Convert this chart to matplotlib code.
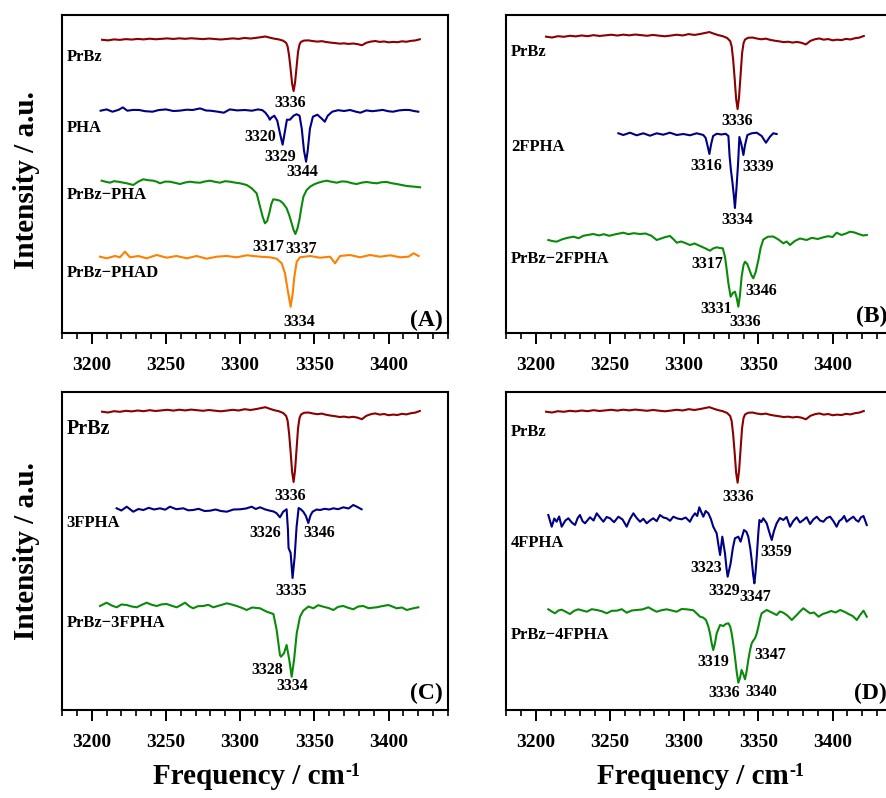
import numpy as np
import matplotlib
matplotlib.use("Agg")
import matplotlib.pyplot as plt
from matplotlib.ticker import MultipleLocator

plt.rcParams['font.family'] = ['Liberation Serif', 'DejaVu Serif']
plt.rcParams['font.weight'] = 'bold'

# ──────────────────────────────────────────
# DATA  (frequency / cm-1, intensity relative to each trace baseline, a.u.)
# ──────────────────────────────────────────
prbz = [(3207, 0.3), (3211, -0.5), (3215, 0.8), (3219, 0.2), (3223, 1.2), (3227, 0.6),
        (3231, 1.5), (3235, 0.8), (3239, 1.8), (3243, 1.0), (3247, 1.6), (3251, 2.2),
        (3255, 1.4), (3259, 2.3), (3263, 1.6), (3267, 2.4), (3271, 1.8), (3275, 1.2),
        (3279, 2.0), (3283, 1.3), (3287, 0.7), (3291, 1.4), (3295, 2.2), (3299, 1.5),
        (3303, 2.8), (3307, 2.0), (3311, 3.0), (3315, 4.2), (3317, 4.8), (3320, 3.2),
        (3323, 1.8), (3326, 0.8), (3329, -1.0), (3331, -4), (3332, -9), (3333, -22),
        (3334, -40), (3335, -60), (3336, -70), (3337, -58), (3338, -37), (3339, -16),
        (3340, -6), (3341, -2.5), (3343, -0.8), (3346, -0.5), (3349, -1.5), (3352, -2.2),
        (3355, -1.6), (3358, -2.8), (3361, -3.6), (3364, -4.2), (3367, -5.0), (3370, -4.6),
        (3373, -5.4), (3376, -4.8), (3379, -5.6), (3382, -7.2), (3385, -3.8), (3388, -2.2),
        (3391, -1.4), (3394, -2.6), (3397, -2.0), (3400, -3.2), (3403, -2.6), (3406, -3.0),
        (3409, -1.8), (3412, -2.4), (3415, -1.2), (3418, -0.6), (3421, 1.0)]

pha = [(3206, 0), (3210, 1.3), (3214, -1), (3218, 0.8), (3221, 3.3), (3224, 0),
       (3228, 0.8), (3232, 0.7), (3236, -0.5), (3241, -1), (3245, 0.6), (3250, 1.3),
       (3255, -0.3), (3259, 0), (3264, 1), (3268, 0.7), (3273, 2.3), (3277, 0.2),
       (3280, 0), (3284, -0.8), (3289, -2), (3293, 1.3), (3298, 0.3), (3303, 0.7),
       (3308, 0), (3312, 1.3), (3315, 0.5), (3317, -2), (3319, -6), (3320, -9),
       (3321, -7), (3323, -5), (3325, -10), (3327, -24), (3328.6, -34), (3330, -22),
       (3331.5, -9), (3333.5, -9), (3336, -5), (3338, -3.5), (3340, -5), (3341.5, -18),
       (3343, -40), (3344.4, -51), (3345.5, -40), (3347, -18), (3349, -6), (3352, -4),
       (3355, -8), (3357, -11), (3359, -5), (3362, -1), (3366, 0.5), (3370, -0.3),
       (3374, 0.7), (3378, -1), (3381, -2), (3385, 0.3), (3389, -0.5), (3392, 0),
       (3396, 0.8), (3400, -0.6), (3403, -1), (3407, 0.3), (3411, 0.8), (3414, 0.7),
       (3417, -0.3), (3420, -1)]

prbz_pha = [(3206.7, 1.3), (3209.5, 0.2), (3212.3, -0.7), (3215, 0.8), (3217.9, 0.3),
            (3220.7, -0.5), (3223.6, -1.3), (3226, -2.2), (3228, -3), (3231.5, 0.5),
            (3234.8, 2.7), (3238, 1.8), (3241.5, 1.3), (3244, 0.2), (3246, -1.3),
            (3249.5, 0.4), (3252.7, 0.3), (3256, -0.8), (3259.5, -2), (3263, -0.5),
            (3266.2, 0.3), (3269.5, -0.4), (3273, -0.7), (3276.5, 0.6), (3279.7, 1.3),
            (3283, 0.2), (3286.4, -0.7), (3289.8, 0.8), (3293.2, 0.3), (3296.5, -0.6),
            (3299.9, -1.3), (3304.4, -3), (3307.8, -6.3), (3311.1, -11.3), (3313.4, -24.7),
            (3315.2, -35), (3316.7, -41.3), (3318.2, -39), (3319.6, -31.3), (3321, -22),
            (3322.3, -17.3), (3324.5, -17.8), (3326.8, -18.7), (3329, -21.5), (3331.3, -26.3),
            (3333, -33), (3334.7, -41.3), (3336, -48), (3337.2, -52), (3338.5, -47),
            (3339.9, -38), (3341.3, -25), (3342.6, -14.7), (3344.8, -8), (3347.1, -4.7),
            (3350, -2.2), (3352.7, -0.7), (3355.5, 0.5), (3358.3, 1.3), (3361.7, 0.2),
            (3365.1, -0.7), (3368.5, 0.6), (3371.8, 0.3), (3375.2, -1.2), (3378.5, -2),
            (3382, -0.6), (3385.3, 0), (3388.7, -0.8), (3392, -1.3), (3395.4, -0.2),
            (3398.8, 0), (3402, -1.2), (3405.5, -2), (3408.8, -3), (3412.2, -4),
            (3416.7, -4.6), (3421.2, -5.3)]

phad = [(3205.6, -0.2), (3210, -1.8), (3215.7, 0.5), (3219, -0.8), (3222.4, 4.8),
        (3225.8, -0.8), (3231.4, 0.5), (3237, -1.8), (3243.8, 1.5), (3250.5, -1.2),
        (3257.2, 0.5), (3264, -1.8), (3270.7, 0.5), (3277.4, -2.2), (3284.2, -0.2),
        (3291, 0.5), (3297.7, -0.8), (3304.4, 1.2), (3313.4, -0.2), (3320.1, -0.8),
        (3324.6, -2.2), (3328, -6.8), (3330.2, -16.8), (3332, -33.5), (3334, -50.2),
        (3335.4, -36.8), (3336.5, -20.2), (3338.1, -5.2), (3340.3, -0.8), (3347.1, 0.5),
        (3353.8, -1.2), (3360.6, -0.2), (3363.9, -6.8), (3367.3, 0.5), (3374, 1.5),
        (3380.8, -0.8), (3387.5, 1.5), (3394.3, -0.2), (3401, 1.2), (3407.8, -0.8),
        (3413.4, -0.2), (3416.8, 3.2), (3420.2, 0.5)]

fpha2 = [(3255.7, 0.7), (3259, -1), (3263.5, 1.3), (3268, -1.3), (3272.5, 0.7),
         (3277, -1.7), (3281.5, 0.7), (3285.9, -0.7), (3290.4, 1.3), (3295, -1),
         (3299.5, 0), (3303.9, -1.3), (3308.4, 0.7), (3312.9, -1), (3314.5, -4),
         (3315.8, -12), (3317, -20), (3318.2, -10), (3319.5, -2), (3322, 0.3),
         (3325, -0.5), (3328, 0.2), (3329.8, -2), (3330.6, -22), (3331.5, -36),
         (3332.5, -48), (3333.5, -62), (3334.2, -74), (3335.2, -55), (3336.3, -30),
         (3337.2, -3), (3338.5, -10), (3339.9, -21), (3341, -11), (3342.6, -1),
         (3345.5, 0.7), (3348.9, 1.3), (3352.2, -2), (3355.1, -8.7), (3357.8, -2.7),
         (3360, 0.7), (3362.3, 0)]

prbz_fpha2 = [(3208.5, 0), (3211, -1), (3214.1, -1.7), (3218, 0.8), (3221.5, 2.2),
              (3225.4, 3.3), (3229, 1.8), (3232, 4.2), (3235, 5), (3238.8, 6),
              (3242.5, 4.6), (3246, 5.8), (3249.5, 4.2), (3253, 5.5), (3256, 6.4),
              (3259, 7.3), (3262.5, 5.8), (3266, 6.8), (3270.3, 6), (3274, 6.5),
              (3278, 4.2), (3281.5, 0), (3284.5, 1.5), (3287.5, 3), (3290.5, 4),
              (3293, 0.5), (3295, -2.7), (3298, -1.5), (3301, -3.2), (3303.9, -5),
              (3307, -3.5), (3310, -5.5), (3313, -7.5), (3317.4, -10.7), (3319.5, -8.5),
              (3321.9, -7.3), (3324, -8), (3326, -8.3), (3327.5, -16.7), (3328.7, -30),
              (3329.8, -43.3), (3331.3, -56.7), (3332.8, -53), (3334.2, -51.7),
              (3335.4, -58), (3336.5, -66.7), (3337.6, -55), (3338.7, -36.7), (3340, -25),
              (3341, -21.7), (3342.5, -24), (3344, -30), (3345.4, -35.5), (3346.6, -38.3),
              (3348.2, -32), (3350, -20), (3351.5, -8), (3353.3, 0.5), (3356.5, 3.3),
              (3360, 3.5), (3363.5, 0.5), (3366.8, -3.3), (3369, -1.5), (3371.3, -5),
              (3374.5, -1), (3378, 1.5), (3382.5, 0), (3386, 2.2), (3390, 1),
              (3393.8, 2.7), (3397, 3.8), (3400, 3), (3402.7, 7.3), (3406, 5),
              (3409, 6.5), (3411.7, 8.3), (3414.5, 7.6), (3417.5, 6), (3420.5, 4.5),
              (3423, 5)]

fpha3 = [(3216.8, 1.7), (3220, -0.5), (3223.6, 3.3), (3228, -1.7), (3231.5, 1),
         (3234.8, 0), (3238.5, 2.2), (3242, 0.5), (3246, 1.7), (3249.5, 0.3),
         (3252.7, 3.3), (3257, 0.8), (3261.7, 1.7), (3265, -0.3), (3268.4, 0),
         (3272, 1.2), (3276, -1), (3279.7, -0.7), (3283.5, 0.5), (3287, -1),
         (3291, -1.7), (3295.5, 0.5), (3299.9, 0.7), (3304, 1.5), (3307.8, 3.3),
         (3310.5, 1), (3313.4, 2.7), (3317, 0.5), (3320.1, -0.7), (3322.5, -1.5),
         (3324.6, -3.3), (3326.8, -7.3), (3329, -1.7), (3331.3, 0.7), (3332.2, -20),
         (3332.6, -38), (3334, -43), (3335.3, -68), (3336.7, -47), (3338, -17),
         (3339.4, 2), (3341, 0.5), (3342.5, -1.7), (3344.3, -6), (3345.9, -13),
         (3347.5, -5), (3348.8, -1.7), (3351.5, 0.5), (3353.8, 0), (3357, 1.2),
         (3360, 0.5), (3362.8, 1.7), (3366, 0.8), (3369.5, 2.7), (3373, 1.5),
         (3376.2, 5), (3379, 3), (3381.8, 0.7)]

prbz_fpha3 = [(3205.6, 1), (3210, 4.3), (3213.5, 1.5), (3216.8, -0.3), (3220, 2.5),
              (3223.6, 2), (3227, 0.5), (3230.3, -0.3), (3233.5, 2), (3237, 4.3),
              (3240.5, 2.2), (3243.8, 1), (3247, 2.6), (3250.5, 3), (3254, 1.2),
              (3257.2, -0.3), (3260, 1.8), (3262.9, 4.3), (3266, 0.5), (3268.4, -1.3),
              (3271.5, 0.8), (3275.2, 1), (3278.5, 2.2), (3281.9, -0.3), (3286, 1.5),
              (3291, 3.7), (3294.5, 2.4), (3297.7, 1), (3301, -0.8), (3304.4, -3),
              (3308, -0.5), (3313.4, -1.3), (3317.9, -4.7), (3322.4, -7), (3324.6, -23),
              (3326.8, -48), (3327.5, -49.7), (3329.5, -46.3), (3331.3, -38), (3333.1, -53),
              (3334.7, -69.7), (3336.3, -53), (3338.1, -26.3), (3340.3, -9.7), (3342.5, -3.7),
              (3346, 0.5), (3349.3, -1.3), (3352.5, 1.8), (3356, 0.3), (3359.5, -1),
              (3362.8, -3), (3366, 0.2), (3369.5, 1), (3372.8, -0.8), (3376.2, -2.3),
              (3379.5, 0.5), (3382.9, 1), (3386.5, -1.2), (3391.9, -0.3), (3395.5, 0.8),
              (3399.8, 2), (3402.5, 0.5), (3405.4, -1.3), (3409, -0.5), (3412.2, -3),
              (3416, -1.5), (3420, -0.3)]

fpha4 = [(3208.5, 5), (3210.8, -6.7), (3212.5, 1.5), (3214.1, -1.7), (3215.8, 3.5),
         (3217.5, -6.7), (3220, -0.5), (3222, 1.7), (3224.3, -2.5), (3226.5, -5),
         (3228.3, 2), (3229.8, 5), (3231.5, -1), (3233.2, -3.3), (3236.6, 2.7),
         (3239, -0.5), (3241.1, 6.7), (3243.3, 2.5), (3245.6, -1.7), (3247.8, 3),
         (3250.1, 1.7), (3252.8, -2.2), (3255.7, 3.3), (3258.5, 0.5), (3261.3, -6.7),
         (3263.5, 1), (3265.8, 6.7), (3268, 2), (3270.3, -1.7), (3272.5, 1.2),
         (3274.8, -3.3), (3277, -0.5), (3279.2, 1.7), (3281.5, -1.2), (3283.7, 5),
         (3286, 2.5), (3288.2, 1.7), (3290.5, -0.8), (3292.7, 3.3), (3295.5, 1.5),
         (3298.3, 0.7), (3301, 2.5), (3303.9, -1.7), (3305.5, 3), (3307.3, 6.7),
         (3308.8, 4), (3310.2, 12.7), (3311.5, 8), (3312.9, 3.3), (3314.5, 9),
         (3316.3, 6.7), (3318, 1), (3319.6, -6.7), (3321.9, -13.3), (3323.2, -26),
         (3324.2, -35), (3325.7, -16.7), (3327.5, -33.3), (3328.5, -48), (3329.3, -56.7),
         (3330.3, -50), (3331.3, -43.3), (3332.8, -28), (3334.2, -18.3), (3336.5, -16.7),
         (3338, -21.7), (3340.3, -10), (3342, -12), (3343.2, -16.7), (3344.5, -28),
         (3345.5, -40), (3346.5, -55), (3347.3, -63.3), (3348.1, -52), (3348.9, -36.7),
         (3350, -12), (3350.7, 0), (3352, -2), (3353.3, 1.7), (3355.6, -3.3),
         (3357.3, -12), (3359, -20), (3360.5, -11), (3362.3, -3.3), (3364.5, 2),
         (3366.8, 0), (3369, 3), (3371.3, -6.7), (3373.5, -1), (3375.8, 2.7),
         (3378, -2.5), (3380.3, 0), (3382.5, 2.8), (3384.8, -4), (3387, 0.5),
         (3389.3, 3.3), (3391.5, -0.5), (3393.8, -1.7), (3396, 2), (3398.3, 3.3),
         (3400.5, -1), (3402.7, -6.7), (3404.5, -1), (3406.1, 0.7), (3407.8, 4),
         (3409.5, -1.7), (3411.7, 1), (3414, 3.3), (3415.7, 0), (3417.4, -1.7),
         (3419, 2.5), (3420.8, 4), (3423, -5)]

prbz_fpha4 = [(3208.5, 0.7), (3210.8, -1.5), (3213, -3.3), (3215.3, -0.5), (3217.5, 0.3),
              (3220.3, -1.8), (3223.1, -4), (3225.9, -0.8), (3228.7, 0.7), (3231.5, -0.5),
              (3234.4, -1.7), (3237.8, 0.8), (3241.1, 0), (3244.5, -1.2), (3247.8, -3.3),
              (3251.2, -0.8), (3254.6, -0.7), (3258, 0.8), (3261.3, -2.7), (3264.7, -0.5),
              (3268, 0), (3272, 0.6), (3275.9, 2.7), (3278.7, 0.3), (3281.5, -1.7),
              (3284.8, -0.2), (3288.2, 0.7), (3291.6, -0.5), (3295, -1.7), (3298.3, 1),
              (3301.7, 0.7), (3304, 0.2), (3306.2, -0.3), (3308.5, -3.5), (3310.7, -6.7),
              (3312.7, -7.5), (3314.7, -10), (3316.2, -16), (3317.4, -23.3), (3318.5, -33),
              (3319.6, -40), (3320.8, -33), (3321.9, -23.3), (3324.2, -15), (3326.4, -16),
              (3328, -14), (3329.8, -13.3), (3331, -16.5), (3332, -23.3), (3333.1, -34),
              (3334.2, -46.7), (3335.4, -62), (3336.5, -72.7), (3337.6, -68), (3338.7, -60),
              (3339.8, -64), (3341, -69.3), (3342, -62), (3343.2, -50), (3344.4, -40),
              (3345.5, -33.3), (3346.6, -30.5), (3347.7, -28.3), (3348.8, -24), (3350, -16.7),
              (3351.1, -9), (3352.2, -3.3), (3355.6, 0), (3359, -2.5), (3362.3, -5),
              (3364.5, -1.5), (3366.8, -2.7), (3369.5, -5.5), (3372.5, -10), (3375.8, -5),
              (3378, -1.5), (3380.3, 1.7), (3382.5, -0.8), (3384.8, -3.3), (3387.5, -2.5),
              (3390.5, -6.7), (3393.3, -4), (3396.1, -2.7), (3399, -1), (3402, -2.5),
              (3405.1, 0), (3408, -1.8), (3410.7, -4), (3413.5, -6), (3416.3, -10),
              (3418.5, -5), (3420.8, -0.7), (3423, -6.7)]

# ──────────────────────────────────────────
# STYLE / LAYOUT
# ──────────────────────────────────────────
C_RED = '#8b0000'
C_NAVY = '#000085'
C_GREEN = '#0a8a0a'
C_ORANGE = '#ff8000'

W, H = 886, 798
AX_W, AX_H = 386, 318

panels = [
    dict(left=62, top=15, tag="(A)", tag_y=0.039,
         traces=[(prbz, 293, 0.73, C_RED), (pha, 222.3, 1.0, C_NAVY),
                 (prbz_pha, 151, 1.0, C_GREEN), (phad, 76.5, 1.0, C_ORANGE)],
         names=[("PrBz", 276.3, 12), ("PHA", 205, 12),
                ("PrBz\u2212PHA", 138, 12), ("PrBz\u2212PHAD", 59.7, 12)],
         peaks=[("3336", 3333.9, 230), ("3320", 3313.8, 196.3), ("3329", 3326.8, 176.3),
                ("3344", 3341.9, 161.3), ("3317", 3319.2, 86.3), ("3337", 3340.8, 83.7),
                ("3334", 3339.8, 11.3)]),
    dict(left=506, top=15, tag="(B)", tag_y=0.052,
         traces=[(prbz, 296, 1.03, C_RED), (fpha2, 199, 1.0, C_NAVY),
                 (prbz_fpha2, 93, 1.0, C_GREEN)],
         names=[("PrBz", 281.3, 12), ("2FPHA", 186.3, 12), ("PrBz\u22122FPHA", 73.7, 12)],
         peaks=[("3336", 3335.8, 212.3), ("3316", 3315.2, 166.5), ("3339", 3349.9, 165.7),
                ("3334", 3335.6, 113), ("3317", 3315.4, 69), ("3346", 3351.8, 42),
                ("3331", 3321.9, 24), ("3336", 3341, 11.3)]),
    dict(left=62, top=392, tag="(C)", tag_y=0.052,
         traces=[(prbz, 298, 1.0, C_RED), (fpha3, 200, 1.0, C_NAVY),
                 (prbz_fpha3, 103, 1.0, C_GREEN)],
         names=[("PrBz", 280.7, 14.5), ("3FPHA", 186.7, 12), ("PrBz\u22123FPHA", 86.7, 12)],
         peaks=[("3336", 3333.8, 214), ("3326", 3317.2, 176.7), ("3346", 3353.1, 176.7),
                ("3335", 3334.7, 119.3), ("3328", 3318.1, 40), ("3334", 3335.1, 24.3)]),
    dict(left=506, top=392, tag="(D)", tag_y=0.052,
         traces=[(prbz, 298, 1.01, C_RED), (fpha4, 190, 1.0, C_NAVY),
                 (prbz_fpha4, 100, 1.0, C_GREEN)],
         names=[("PrBz", 278.3, 12), ("4FPHA", 166.7, 12), ("PrBz\u22124FPHA", 75, 12)],
         peaks=[("3336", 3336.1, 213.3), ("3323", 3314.7, 141.7), ("3359", 3362.1, 158.3),
                ("3329", 3327, 119.3), ("3347", 3348.2, 112.7), ("3319", 3319.4, 48.3),
                ("3347", 3357.8, 55), ("3336", 3327, 16.7), ("3340", 3351.6, 18.3)]),
]

fig = plt.figure(figsize=(W / 100, H / 100), dpi=100)

for p in panels:
    ax = fig.add_axes([p['left'] / W, 1 - (p['top'] + AX_H) / H, AX_W / W, AX_H / H])
    for pts, offset, scale, color in p['traces']:
        arr = np.array(pts)
        ax.plot(arr[:, 0], offset + scale * arr[:, 1], color=color, lw=1.5,
                solid_joinstyle='round')
    for text, y, size in p['names']:
        ax.text(3183.2, y, text, ha='left', va='center', fontsize=size, fontweight='bold')
    for text, x, y in p['peaks']:
        ax.text(x, y, text, ha='center', va='center', fontsize=11.5, fontweight='bold')
    ax.text(0.987, p['tag_y'], p['tag'], transform=ax.transAxes, ha='right', va='center',
            fontsize=17, fontweight='bold')

    ax.set_xlim(3180, 3440)
    ax.set_ylim(0, AX_H)
    ax.set_yticks([])
    ax.xaxis.set_major_locator(MultipleLocator(50))
    ax.xaxis.set_minor_locator(MultipleLocator(10))
    ax.tick_params(axis='x', which='major', direction='out', length=8, width=1.4,
                   labelsize=14, pad=9)
    ax.tick_params(axis='x', which='minor', direction='out', length=4.5, width=1.2)
    for lab in ax.get_xticklabels():
        lab.set_fontweight('bold')
    for sp in ax.spines.values():
        sp.set_linewidth(1.5)

# axis titles
for yc in (180, 551):
    fig.text(27 / W, 1 - yc / H, "Intensity / a.u.", rotation=90, ha='center', va='center',
             fontsize=21, fontweight='bold')
for xc in (249, 693):
    t = fig.text(xc / W, 1 - 777 / H, "Frequency / cm", ha='center', va='center',
                 fontsize=21, fontweight='bold')
    plt.annotate("-1", xy=(1.0, 1.02), xycoords=t, ha='left', va='top',
                 fontsize=13, fontweight='bold', annotation_clip=False)

fig.savefig("out.png", dpi=100)
